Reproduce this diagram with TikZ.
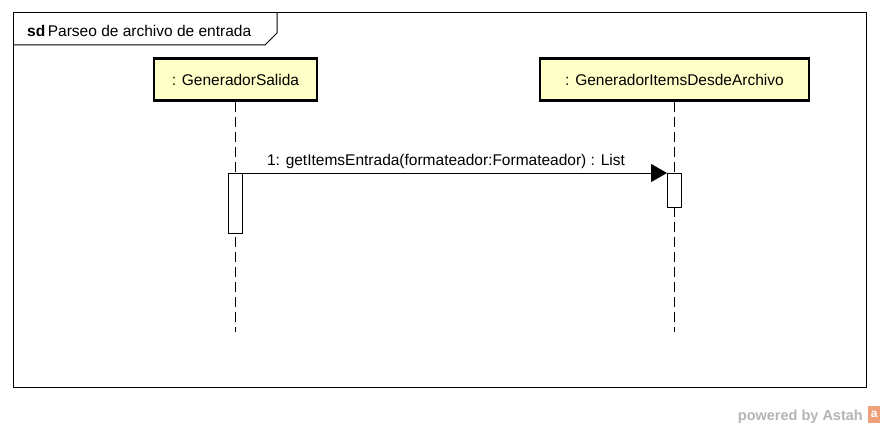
\documentclass[tikz,border=0pt]{standalone}
\usepackage{fontspec}
\setmainfont{Liberation Sans}
\usetikzlibrary{arrows.meta}
\definecolor{boxfill}{HTML}{FFFFC8}
\definecolor{logogray}{HTML}{B4B4B4}
\definecolor{logoorange}{HTML}{F0A078}
\tikzset{
  lifebox/.style={draw=black, line width=2.6pt, fill=boxfill, minimum height=42pt, inner sep=0pt, font=\fontsize{15.5}{17}\selectfont},
  actbox/.style={draw=black, line width=0.9pt, fill=white, minimum width=14pt, inner sep=0pt, anchor=north},
  lifeline/.style={draw=black, line width=1pt, dash pattern=on 10pt off 5pt},
  msg/.style={draw=black, line width=0.9pt, -{Triangle[length=16pt,width=18pt]}},
  framebox/.style={draw=black, line width=1pt},
}
\begin{document}
\begin{tikzpicture}[x=1pt,y=-1pt]
\useasboundingbox (0,0) rectangle (880,428);
\fill[white] (0,0) rectangle (880,428);
% frame
\draw[framebox] (13,13) rectangle (866,387);
\draw[framebox] (13,45) -- (265,45) -- (277,33) -- (277,13);
\node[anchor=base west, inner sep=0pt, font=\fontsize{15.5}{17}\selectfont] (title) at (27,37) {\textbf{sd}\,Parseo de archivo de entrada};
% lifeline heads
\node[lifebox, minimum width=163pt] (gs) at (235.5,79.5) {: GeneradorSalida};
\node[lifebox, minimum width=269pt] (gi) at (674.5,79.5) {: GeneradorItemsDesdeArchivo};
\coordinate (gsend) at (235.5,332);
\coordinate (giend) at (674.5,332);
\draw[lifeline] (gs.south) -- (gsend);
\draw[lifeline] (gi.south) -- (giend);
% activations
\node[actbox, minimum height=60pt] (a1) at (235.5,173) {};
\node[actbox, minimum height=34pt] (a2) at (674.5,173) {};
% message
\draw[msg] (a1.north east) -- node[above=3pt, xshift=-9pt, inner sep=1pt, font=\fontsize{15.5}{17}\selectfont] (m1) {1: getItemsEntrada(formateador:Formateador) : List} (a2.north west);
% logo
\node[anchor=base east, inner sep=0pt, text=logogray, font=\fontsize{14.5}{16}\bfseries\selectfont] (logo) at (863,420) {powered by Astah};
\node[fill=logoorange, minimum width=12pt, minimum height=17pt, inner sep=0pt, anchor=north west, text=white, font=\fontsize{12}{12}\bfseries\selectfont] (logosq) at (868,406) {a};
\end{tikzpicture}
\end{document}
